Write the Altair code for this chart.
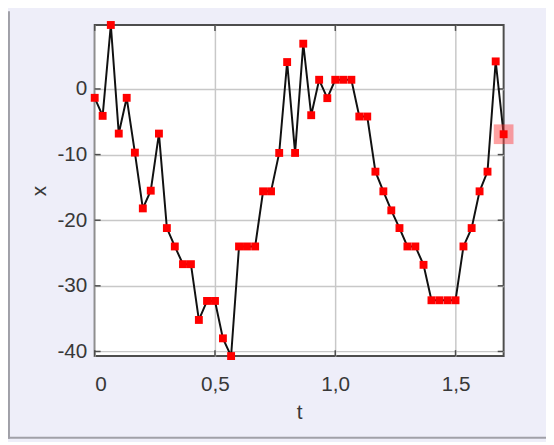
import altair as alt
import pandas as pd

t_vals = [0.0, 0.033, 0.067, 0.1, 0.133, 0.167, 0.2, 0.233, 0.267, 0.3,
          0.333, 0.367, 0.4, 0.433, 0.467, 0.5, 0.533, 0.567, 0.6, 0.633,
          0.667, 0.7, 0.733, 0.767, 0.8, 0.833, 0.867, 0.9, 0.933, 0.967,
          1.0, 1.033, 1.067, 1.1, 1.133, 1.167, 1.2, 1.233, 1.267, 1.3,
          1.333, 1.367, 1.4, 1.433, 1.467, 1.5, 1.533, 1.567, 1.6, 1.633,
          1.667, 1.7]
x_vals = [-1.35, -4.1, 9.75, -6.8, -1.35, -9.7, -18.2, -15.5, -6.8, -21.2,
          -24.0, -26.7, -26.7, -35.2, -32.3, -32.3, -38.0, -40.7, -24.0, -24.0,
          -24.0, -15.6, -15.6, -9.75, 4.1, -9.75, 6.9, -4.0, 1.4, -1.4,
          1.4, 1.4, 1.4, -4.2, -4.2, -12.6, -15.6, -18.5, -21.2, -24.0,
          -24.0, -26.8, -32.2, -32.2, -32.2, -32.2, -24.0, -21.2, -15.6, -12.6,
          4.2, -6.9]

x_ticks = [0.0, 0.5, 1.0, 1.5]
y_ticks = [0, -10, -20, -30, -40]

df = pd.DataFrame({"t": t_vals, "x": x_vals})
last = df.tail(1)
xt = pd.DataFrame({"t": x_ticks})
yt = pd.DataFrame({"x": y_ticks})

W, H = 415, 336
FONT = "Liberation Sans"
TXT = "#383838"
FRAME = "#4d4d4d"

xscale = alt.Scale(domain=[0, 1.7], nice=False, zero=False)
yscale = alt.Scale(domain=[-40.7, 9.75], nice=False, zero=False)

xaxis = alt.Axis(
    values=x_ticks, grid=True, gridColor="#c8c8c8", gridWidth=1.5,
    domain=False, ticks=False, labelFont=FONT, labelFontSize=21,
    labelColor=TXT, labelPadding=18, title="t", titleFont=FONT,
    titleFontSize=21, titleFontWeight="normal", titleColor=TXT,
    titlePadding=7,
    labelExpr="datum.value == 0 ? '0' : replace(format(datum.value, '.1f'), '.', ',')",
)
yaxis = alt.Axis(
    values=y_ticks, grid=True, gridColor="#c8c8c8", gridWidth=1.5,
    domain=False, ticks=False, labelFont=FONT, labelFontSize=21,
    labelColor=TXT, labelPadding=8, title="x", titleFont=FONT,
    titleFontSize=21, titleFontWeight="normal", titleColor=TXT,
    titlePadding=8,
    labelExpr="datum.value < 0 ? '-' + format(-datum.value, 'd') : format(datum.value, 'd')",
)

base = alt.Chart(df)

line = base.mark_line(color="#111111", strokeWidth=2).encode(
    x=alt.X("t:Q", scale=xscale, axis=xaxis),
    y=alt.Y("x:Q", scale=yscale, axis=yaxis),
)
pts = base.mark_square(color="#ff0000", size=64, opacity=1).encode(
    x=alt.X("t:Q", scale=xscale), y=alt.Y("x:Q", scale=yscale)
)
hl = alt.Chart(last).mark_square(color="#ff3030", size=400, opacity=0.45).encode(
    x=alt.X("t:Q", scale=xscale), y=alt.Y("x:Q", scale=yscale)
)

tick_l = alt.Chart(yt).mark_rule(color=FRAME, strokeWidth=1.5).encode(
    y=alt.Y("x:Q", scale=yscale), x=alt.value(0), x2=alt.value(6))
tick_r = alt.Chart(yt).mark_rule(color=FRAME, strokeWidth=1.5).encode(
    y=alt.Y("x:Q", scale=yscale), x=alt.value(W - 6), x2=alt.value(W))
tick_b = alt.Chart(xt).mark_rule(color=FRAME, strokeWidth=1.5).encode(
    x=alt.X("t:Q", scale=xscale), y=alt.value(H - 6), y2=alt.value(H))
tick_t = alt.Chart(xt).mark_rule(color=FRAME, strokeWidth=1.5).encode(
    x=alt.X("t:Q", scale=xscale), y=alt.value(0), y2=alt.value(6))

border_l = alt.Chart(last).mark_rule(color="#a0a0a8", strokeWidth=2).encode(
    x=alt.value(-87), y=alt.value(-14), y2=alt.value(H + 84))
border_b = alt.Chart(last).mark_rule(color="#a0a0a8", strokeWidth=2).encode(
    x=alt.value(-88), x2=alt.value(W + 43), y=alt.value(H + 83))

chart = alt.layer(
    tick_l, tick_r, tick_b, tick_t, line, hl, pts, border_l, border_b
).properties(
    width=W, height=H,
    autosize=alt.AutoSizeParams(type="none"),
    padding={"left": 88, "top": 14, "right": 43, "bottom": 84},
    background="#eeeef9",
).configure_view(
    stroke=FRAME, strokeWidth=2, fill="white"
)

chart.save("out.html", embed_options={"renderer": "svg", "actions": False})
